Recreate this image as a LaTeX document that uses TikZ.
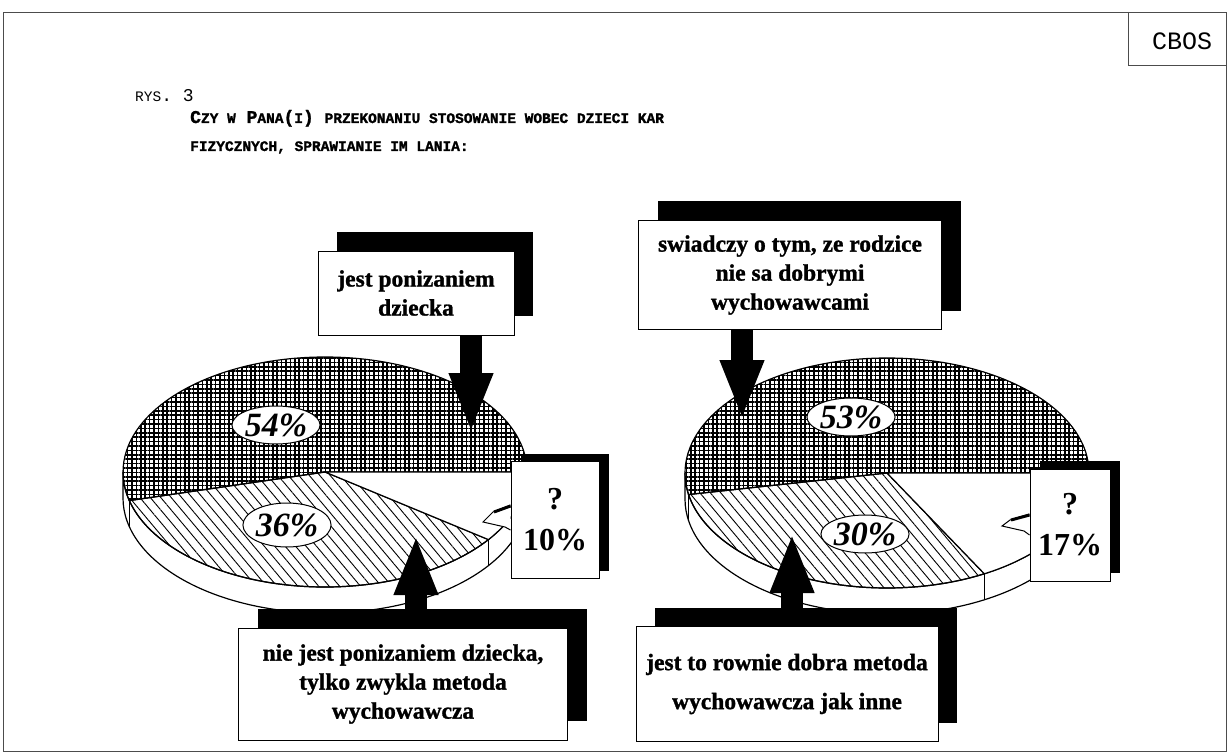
\documentclass[tikz,border=0pt]{standalone}
\usepackage{fontspec}
\setmainfont{Liberation Serif}
\newfontfamily\heavyfont{Liberation Serif}[BoldFeatures={FakeBold=1.2}]
\newfontfamily\monofont{Liberation Mono}[BoldFeatures={FakeBold=1.5}]
\usetikzlibrary{arrows.meta, shapes.geometric, shadows, patterns.meta}

\newcommand\smallcap[1]{{\fontsize{14.5}{16}\selectfont #1}}

\tikzset{
  pieline/.style={line width=1.2pt},
  crossfill/.style={pattern={Hatch[angle=0, distance=4.4pt, line width=1.6pt]}},
  slantfill/.style={pattern={Lines[angle=-50, distance=8pt, line width=0.9pt]}},
  pctlabel/.style={ellipse, draw, fill=white, line width=1pt, inner sep=0pt,
    minimum width=88pt, minimum height=38pt,
    font=\bfseries\itshape\fontsize{34}{34}\selectfont},
  callout/.style={draw, fill=white, line width=1pt, align=center, inner sep=0pt,
    font=\heavyfont\bfseries\fontsize{23.5}{29}\selectfont,
    drop shadow={shadow xshift=19pt, shadow yshift=19pt, fill=black, opacity=1}},
  smallcallout/.style={draw, fill=white, line width=1pt, align=center, inner sep=0pt,
    font=\bfseries\fontsize{32}{41}\selectfont,
    drop shadow={shadow xshift=10pt, shadow yshift=8pt, fill=black, opacity=1}},
  blockarrow/.style={line width=22pt, -{Triangle[width=40pt, length=60pt]}},
  titletext/.style={anchor=base west, inner sep=0pt, font=\monofont\fontsize{18}{20}\selectfont}
}

\begin{document}
\begin{tikzpicture}[x=1pt, y=-1pt]
\useasboundingbox (0,0) rectangle (1228,754);
\fill[white] (0,0) rectangle (1228,754);

% frame
\draw[black!70, line width=0.8pt] (3,12) rectangle (1226,751);
\draw[black!70, line width=0.8pt] (1128,12) -- (1128,65) -- (1226,65);
\node[font=\monofont\fontsize{25}{26}\selectfont] (cbos) at (1182,41) {CBOS};

% heading
\node[titletext] (rys) at (135,102) {\smallcap{RYS}. 3};
\node[titletext, font=\monofont\bfseries\fontsize{18}{20}\selectfont] (head1) at (190,123)
  {C\smallcap{ZY W} P\smallcap{ANA}(\smallcap{I}) \smallcap{PRZEKONANIU STOSOWANIE WOBEC DZIECI KAR}};
\node[titletext, font=\monofont\bfseries\fontsize{18}{20}\selectfont] (head2) at (190,151)
  {\smallcap{FIZYCZNYCH, SPRAWIANIE IM LANIA:}};

% left pie
\begin{scope}[shift={(325,472)}]
  \draw[pieline, fill=white] (180:202 and 115) -- ++(0,26)
    arc[start angle=180, end angle=0, x radius=202, y radius=115] -- (0:202 and 115)
    arc[start angle=0, end angle=180, x radius=202, y radius=115] -- cycle;
  \draw[pieline] (165.6:202 and 115) -- ++(0,26);
  \draw[pieline] (36:202 and 115) -- ++(0,26);
  \draw[pieline, crossfill] (0,0) -- (0:202 and 115)
    arc[start angle=0, end angle=-194.4, x radius=202, y radius=115] -- cycle;
  \draw[pieline, slantfill] (0,0) -- (165.6:202 and 115)
    arc[start angle=165.6, end angle=36, x radius=202, y radius=115] -- cycle;
  \draw[pieline, fill=white] (0,0) -- (36:202 and 115)
    arc[start angle=36, end angle=0, x radius=202, y radius=115] -- cycle;
\end{scope}

% right pie
\begin{scope}[shift={(887,473)}]
  \draw[pieline, fill=white] (180:202 and 115) -- ++(0,26)
    arc[start angle=180, end angle=0, x radius=202, y radius=115] -- (0:202 and 115)
    arc[start angle=0, end angle=180, x radius=202, y radius=115] -- cycle;
  \draw[pieline] (169.2:202 and 115) -- ++(0,26);
  \draw[pieline] (61.2:202 and 115) -- ++(0,26);
  \draw[pieline, crossfill] (0,0) -- (0:202 and 115)
    arc[start angle=0, end angle=-190.8, x radius=202, y radius=115] -- cycle;
  \draw[pieline, slantfill] (0,0) -- (169.2:202 and 115)
    arc[start angle=169.2, end angle=61.2, x radius=202, y radius=115] -- cycle;
  \draw[pieline, fill=white] (0,0) -- (61.2:202 and 115)
    arc[start angle=61.2, end angle=0, x radius=202, y radius=115] -- cycle;
\end{scope}

% percentages
\node[pctlabel] (p54) at (276,425) {54\%};
\node[pctlabel, minimum height=44pt] (p36) at (287,525) {36\%};
\node[pctlabel] (p53) at (851,417) {53\%};
\node[pctlabel] (p30) at (865,534) {30\%};

% callouts
\node[callout, minimum width=196pt, minimum height=84pt] (ponbox) at (416,293)
  {jest ponizaniem\\dziecka};
\node[callout, minimum width=303pt, minimum height=109pt] (zlibox) at (790,275)
  {swiadczy o tym, ze rodzice\\nie sa dobrymi\\wychowawcami};
\node[callout, minimum width=329pt, minimum height=112pt] (niebox) at (403,684)
  {nie jest ponizaniem dziecka,\\tylko zwykla metoda\\wychowawcza};
\node[callout, minimum width=302pt, minimum height=115pt,
  font=\heavyfont\bfseries\fontsize{23.5}{39}\selectfont] (dobbox) at (787,684)
  {jest to rownie dobra metoda\\wychowawcza jak inne};
\node[smallcallout, minimum width=88pt, minimum height=117pt] (qleft) at (555,520) {?\\10\%};
\node[smallcallout, minimum width=80pt, minimum height=112pt] (qright) at (1070,525) {?\\17\%};

% callout tails
\draw[line width=1pt, fill=white] (qleft.west |- 0,505) -- (493,512) -- (483,522) -- (505,527) -- (qleft.west |- 0,530);
\draw[line width=3pt] (qleft.west |- 0,506) -- (494,512);
\draw[line width=1pt, fill=white] (qright.west |- 0,514) -- (1010,520) -- (1002,526) -- (1024,531) -- (qright.west |- 0,535);
\draw[line width=3pt] (qright.west |- 0,515) -- (1011,520);

% arrows
\coordinate (tipA) at (471,433);
\coordinate (tipB) at (742,420);
\coordinate (tipC) at (416,535);
\coordinate (tipD) at (792,533);
\draw[blockarrow] (ponbox.south -| tipA) -- (tipA);
\draw[blockarrow] (zlibox.south -| tipB) -- (tipB);
\draw[blockarrow] (niebox.north -| tipC) -- (tipC);
\draw[blockarrow] (dobbox.north -| tipD) -- (tipD);
\end{tikzpicture}
\end{document}
